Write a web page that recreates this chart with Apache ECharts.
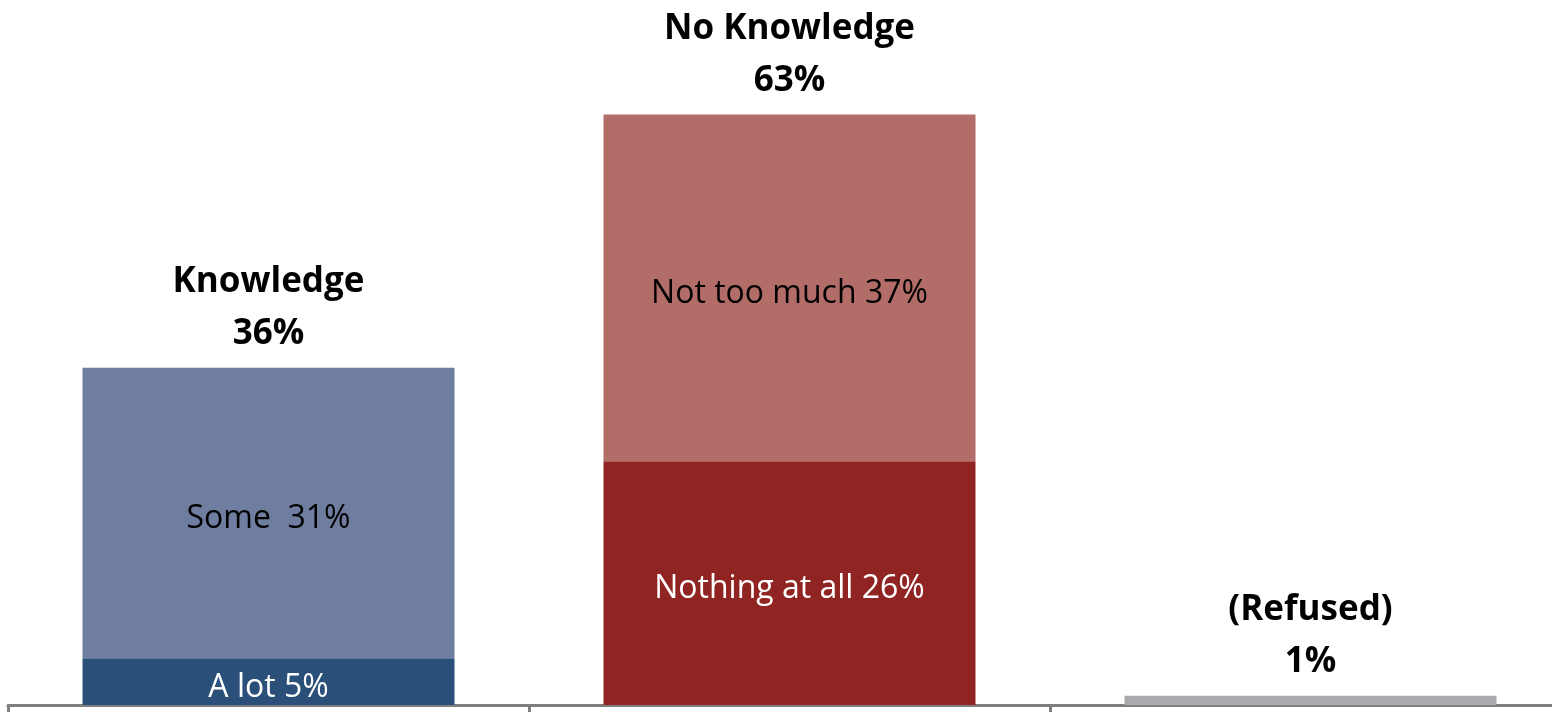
<!DOCTYPE html>
<html>
<head>
<meta charset="utf-8">
<script src="https://cdn.jsdelivr.net/npm/echarts@6/dist/echarts.min.js"></script>
<style>
html,body{margin:0;padding:0;background:#fff;}
#chart{width:1552px;height:713px;}
</style>
</head>
<body>
<div id="chart"></div>
<script>
const categories = ['Knowledge', 'No Knowledge', '(Refused)'];
const lowerNames = ['A lot', 'Nothing at all', ''];
const lowerValues = [5, 26, 1];
const upperNames = ['Some ', 'Not too much', ''];
const upperValues = [31, 37, null];
const totals = [36, 63, 1];

const lowerColors = ['#2A4F78', '#902423', '#A9AAAD'];
const upperColors = ['#6E7DA0', '#B36D69', '#B36D69'];
const lowerTextColors = ['#ffffff', '#ffffff', '#ffffff'];

const FONT = '"Open Sans", Lato, sans-serif';

const chart = echarts.init(document.getElementById('chart'), null, {renderer: 'canvas'});
chart.setOption({
  animation: false,
  grid: {left: 8, width: 1563, top: 49, bottom: 8, containLabel: false, outerBoundsMode: 'none'},
  xAxis: {
    type: 'category',
    data: categories,
    boundaryGap: true,
    offset: 2,
    axisLine: {show: true, lineStyle: {color: '#7F7F7F', width: 3}},
    axisTick: {show: true, length: 7, lineStyle: {color: '#7F7F7F', width: 3}},
    axisLabel: {show: false}
  },
  yAxis: {type: 'value', min: 0, max: 70, show: false, splitLine: {show: false}},
  series: [
    {
      name: 'lower', type: 'bar', stack: 'total', barWidth: '71.4%',
      data: lowerValues.map((v, i) => ({
        value: v,
        itemStyle: {color: lowerColors[i]},
        label: {
          show: lowerNames[i] !== '',
          color: lowerTextColors[i],
          formatter: () => lowerNames[i] + ' ' + v + '%'
        }
      })),
      label: {position: 'inside', fontFamily: FONT, fontSize: 32, offset: [0, 6]}
    },
    {
      name: 'upper', type: 'bar', stack: 'total', barWidth: '71.4%',
      data: upperValues.map((v, i) => ({
        value: v,
        itemStyle: {color: upperColors[i]},
        label: {
          show: v != null,
          formatter: () => upperNames[i] + ' ' + v + '%'
        }
      })),
      label: {position: 'inside', color: '#000', fontFamily: FONT, fontSize: 32, offset: [0, 6]}
    },
    {
      name: 'total', type: 'bar', stack: 'total', barWidth: '71.4%',
      data: totals.map(() => 0),
      itemStyle: {color: 'transparent'},
      label: {
        show: true, position: 'top', distance: 8,
        color: '#000', fontFamily: FONT, fontWeight: 'bold', fontSize: 35, lineHeight: 52,
        formatter: (p) => categories[p.dataIndex] + '\n' + totals[p.dataIndex] + '%'
      }
    }
  ]
});
</script>
</body>
</html>
